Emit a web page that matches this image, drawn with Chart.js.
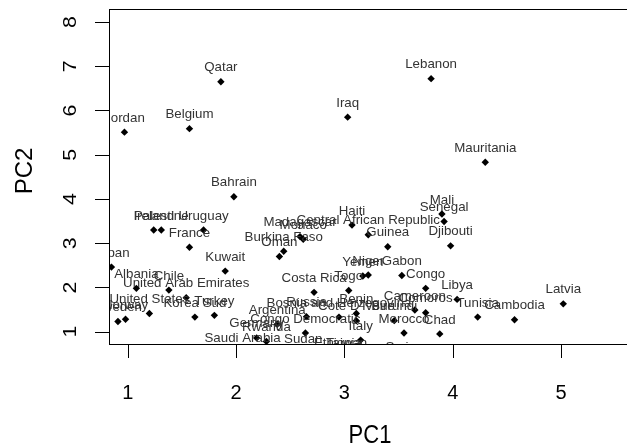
<!DOCTYPE html>
<html>
<head>
<meta charset="utf-8">
<script src="https://cdn.jsdelivr.net/npm/chart.js@4/dist/chart.umd.min.js"></script>
<style>
  html, body { margin: 0; padding: 0; background: #fff; overflow: hidden; }
  #wrap { width: 640px; height: 446px; }
</style>
</head>
<body>
<div id="wrap"><canvas id="c" width="640" height="446"></canvas></div>
<script>
// Country scores on the first two principal components
const countries = [
  "Qatar", "Lebanon", "Jordan", "Belgium", "Iraq", "Mauritania", "Bahrain",
  "Ireland", "Palestine", "Uruguay", "France", "Kuwait", "Japan", "Albania",
  "Chile", "United Arab Emirates", "United States", "Korea Sud", "Turkey",
  "Sweden", "Norway", "Oman", "Burkina Faso", "Madagascar", "Monaco", "Haiti",
  "Central African Republic", "Guinea", "Mali", "Senegal", "Djibouti", "Gabon",
  "Yemen", "Niger", "Togo", "Costa Rica", "Congo", "Libya", "Cameroon",
  "Comoros", "Tunisia", "Cambodia", "Latvia", "Chad", "Morocco", "Burundi",
  "Cote D'Ivoire", "Benin", "Bosnia and Herzegovina", "Russia", "Italy",
  "Congo Democratic", "Argentina", "Germany", "Rwanda", "Saudi Arabia",
  "Sudan", "Taiwan", "Ethiopia", "Syria"
];
const pc1 = [
  1.86, 3.80, 0.97, 1.57, 3.03, 4.30, 1.98,
  1.24, 1.31, 1.70, 1.57, 1.90, 0.85, 1.08,
  1.38, 1.54, 1.20, 1.62, 1.80,
  0.91, 0.98, 2.40, 2.44, 2.59, 2.62, 3.07,
  3.22, 3.40, 3.90, 3.92, 3.98, 3.53,
  3.17, 3.22, 3.04, 2.72, 3.75, 4.04, 3.65,
  3.75, 4.23, 4.57, 5.02, 3.88, 3.55, 3.46,
  3.11, 3.11, 2.95, 2.65, 3.15,
  2.64, 2.38, 2.19, 2.28, 2.06,
  2.62, 3.02, 2.94, 3.52
];
const pc2 = [
  6.65, 6.72, 5.51, 5.59, 5.85, 4.83, 4.05,
  3.30, 3.30, 3.30, 2.91, 2.37, 2.46, 1.98,
  1.94, 1.77, 1.41, 1.33, 1.37,
  1.23, 1.28, 2.70, 2.82, 3.15, 3.09, 3.41,
  3.19, 2.92, 3.66, 3.49, 2.94, 2.27,
  2.26, 2.28, 1.93, 1.89, 1.98, 1.73, 1.49,
  1.43, 1.33, 1.27, 1.63, 0.95, 0.97, 1.25,
  1.25, 1.41, 1.33, 1.34, 0.81,
  0.97, 1.17, 0.86, 0.78, 0.53,
  0.51, 0.43, 0.42, 0.34
];
const xTicks = [1, 2, 3, 4, 5];
const yTicks = [1, 2, 3, 4, 5, 6, 7, 8];
const xTitle = "PC1";
const yTitle = "PC2";

const FONT = '"Liberation Sans", Arial, Helvetica, sans-serif';

const points = pc1.map((x, i) => ({ x: x, y: pc2[i] }));

// Base-graphics style frame: box, outward ticks, axis labels and titles
const frame = {
  id: 'frame',
  afterDraw(chart) {
    const { ctx, chartArea: a, scales } = chart;
    const xs = scales.x, ys = scales.y;
    ctx.save();
    ctx.strokeStyle = '#000';
    ctx.lineWidth = 1;
    ctx.strokeRect(Math.round(a.left) + 0.5, Math.round(a.top) + 0.5,
                   Math.round(a.right - a.left), Math.round(a.bottom - a.top));

    // x axis
    ctx.beginPath();
    xTicks.forEach(t => {
      const px = Math.round(xs.getPixelForValue(t)) + 0.5;
      ctx.moveTo(px, a.bottom);
      ctx.lineTo(px, a.bottom + 14);
    });
    // y axis
    yTicks.forEach(t => {
      const py = Math.round(ys.getPixelForValue(t)) + 0.5;
      ctx.moveTo(a.left, py);
      ctx.lineTo(a.left - 14, py);
    });
    ctx.stroke();

    ctx.fillStyle = '#000';
    ctx.textAlign = 'center';
    ctx.textBaseline = 'alphabetic';
    ctx.font = '20px ' + FONT;
    xTicks.forEach(t => {
      ctx.fillText(String(t), xs.getPixelForValue(t), 398.5);
    });
    yTicks.forEach(t => {
      ctx.save();
      ctx.translate(76, ys.getPixelForValue(t));
      ctx.rotate(-Math.PI / 2);
      ctx.scale(1.12, 1);
      ctx.font = '19px ' + FONT;
      ctx.fillText(String(t), 0, 0);
      ctx.restore();
    });

    // axis titles
    ctx.save();
    ctx.translate((a.left + a.right) / 2, 443);
    ctx.scale(1, 1.15);
    ctx.font = '22px ' + FONT;
    ctx.fillText(xTitle, 0, 0);
    ctx.restore();

    ctx.save();
    ctx.translate(31.5, 171);
    ctx.rotate(-Math.PI / 2);
    ctx.font = '24px ' + FONT;
    ctx.fillText(yTitle, 0, 0);
    ctx.restore();

    ctx.restore();
  }
};

// Country names above each point, clipped to the plotting region
const pointLabels = {
  id: 'pointLabels',
  afterDatasetsDraw(chart) {
    const { ctx, chartArea: a } = chart;
    const meta = chart.getDatasetMeta(0);
    ctx.save();
    ctx.beginPath();
    ctx.rect(a.left + 1, a.top, a.right - a.left - 1, a.bottom - a.top);
    ctx.clip();
    ctx.fillStyle = '#333';
    ctx.font = '13.3px ' + FONT;
    ctx.textAlign = 'center';
    ctx.textBaseline = 'alphabetic';
    meta.data.forEach((el, i) => {
      ctx.fillText(countries[i], el.x, el.y - 10.4);
    });
    ctx.restore();
  }
};

new Chart(document.getElementById('c'), {
  type: 'scatter',
  data: {
    datasets: [{
      data: points,
      pointStyle: 'rectRot',
      pointRadius: 3.7,
      backgroundColor: '#000',
      borderColor: '#000',
      borderWidth: 0
    }]
  },
  options: {
    responsive: false,
    animation: false,
    devicePixelRatio: 1,
    events: [],
    layout: { padding: { left: 109, top: 9, right: 9, bottom: 102 } },
    plugins: { legend: { display: false }, tooltip: { enabled: false } },
    scales: {
      x: { type: 'linear', min: 0.8274, max: 5.645, display: false },
      y: { type: 'linear', min: 0.722, max: 8.294, display: false }
    }
  },
  plugins: [pointLabels, frame]
});
</script>
</body>
</html>
